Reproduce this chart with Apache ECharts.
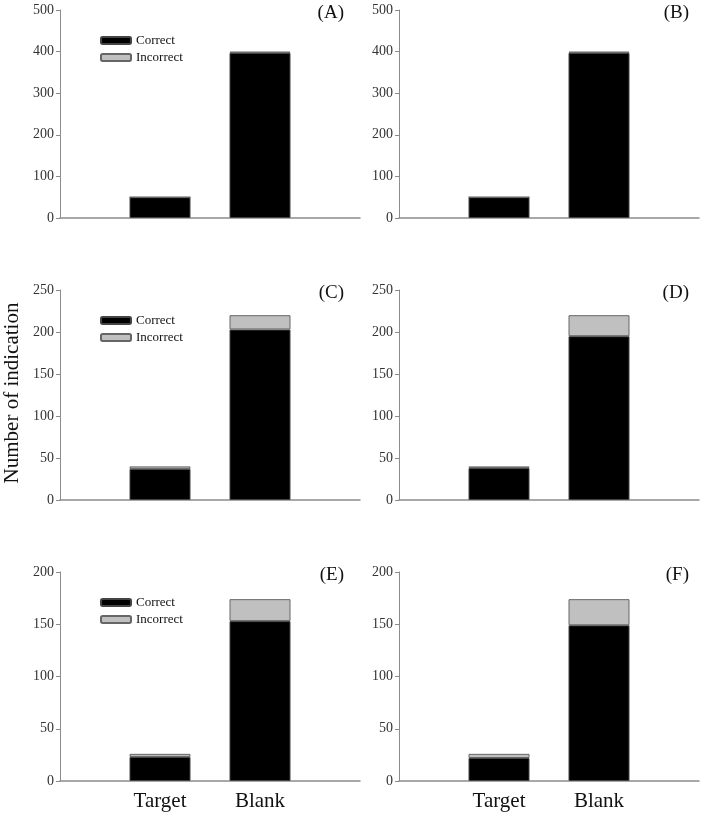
<!DOCTYPE html>
<html>
<head>
<meta charset="utf-8">
<script src="https://cdn.jsdelivr.net/npm/echarts@6/dist/echarts.min.js"></script>
<style>html,body{margin:0;padding:0;background:#fff}#c{width:704px;height:816px}</style>
</head>
<body>
<div id="c"></div>
<script>
var categories = ['Target', 'Blank'];
var panelLabels = ['(A)', '(B)', '(C)', '(D)', '(E)', '(F)'];
var correctA = [50, 397], incorrectA = [0, 3];
var correctB = [50, 397], incorrectB = [0, 3];
var correctC = [37, 203], incorrectC = [3, 17];
var correctD = [38, 195], incorrectD = [2, 25];
var correctE = [23, 153], incorrectE = [3, 21];
var correctF = [22, 149], incorrectF = [4, 25];
var yMax = [500, 500, 250, 250, 200, 200];
var yStep = [100, 100, 50, 50, 50, 50];

var correct = [correctA, correctB, correctC, correctD, correctE, correctF];
var incorrect = [incorrectA, incorrectB, incorrectC, incorrectD, incorrectE, incorrectF];
var xCats = [''].concat(categories).concat(['']);
function pad(a) { return [null].concat(a).concat([null]); }

var lefts = [60, 399];
var tops = [10, 290, 572];
var heights = [208, 210, 209];
var font = 'Liberation Serif';
var axisColor = '#8c8c8c';

var grids = [], xAxes = [], yAxes = [], series = [], legends = [], graphics = [];
for (var i = 0; i < 6; i++) {
  var row = Math.floor(i / 2), col = i % 2;
  grids.push({left: lefts[col], top: tops[row], width: 300, height: heights[row]});
  xAxes.push({
    type: 'category', gridIndex: i, data: xCats, boundaryGap: false,
    axisLine: {lineStyle: {color: axisColor, width: 1.5}},
    axisTick: {show: false},
    axisLabel: {show: row === 2, interval: 0, fontFamily: font, fontSize: 21, color: '#111', margin: 10}
  });
  yAxes.push({
    type: 'value', gridIndex: i, min: 0, max: yMax[i], interval: yStep[i],
    splitLine: {show: false},
    axisLine: {show: true, lineStyle: {color: axisColor, width: 1}},
    axisTick: {show: true, length: 4, lineStyle: {color: axisColor}},
    axisLabel: {fontFamily: font, fontSize: 14, color: '#333', margin: 6}
  });
  series.push({
    name: 'Correct', type: 'bar', xAxisIndex: i, yAxisIndex: i, stack: 's' + i,
    data: pad(correct[i]), barWidth: 61,
    itemStyle: {color: '#000', borderColor: '#444', borderWidth: 1}
  });
  series.push({
    name: 'Incorrect', type: 'bar', xAxisIndex: i, yAxisIndex: i, stack: 's' + i,
    data: pad(incorrect[i]), barWidth: 61,
    itemStyle: {color: '#c0c0c0', borderColor: '#666', borderWidth: 1}
  });
  if (col === 0) {
    legends.push({
      orient: 'vertical', left: 95, top: tops[row] + 19,
      data: ['Correct', 'Incorrect'], icon: 'roundRect',
      itemWidth: 30, itemHeight: 7, itemGap: 4, selectedMode: false,
      textStyle: {fontFamily: font, fontSize: 13, color: '#111'}
    });
  }
  graphics.push({
    type: 'text', right: (col === 0 ? 704 - 344 : 704 - 689), top: tops[row] - 6,
    style: {text: panelLabels[i], font: '19px "Liberation Serif"', fill: '#111'}
  });
}
graphics.push({
  type: 'text', x: 12, y: 393, rotation: Math.PI / 2,
  style: {text: 'Number of indication', font: '21px "Liberation Serif"', fill: '#111', align: 'center', verticalAlign: 'middle'}
});

var chart = echarts.init(document.getElementById('c'));
chart.setOption({
  animation: false,
  grid: grids, xAxis: xAxes, yAxis: yAxes, series: series, legend: legends, graphic: graphics
});
</script>
</body>
</html>
